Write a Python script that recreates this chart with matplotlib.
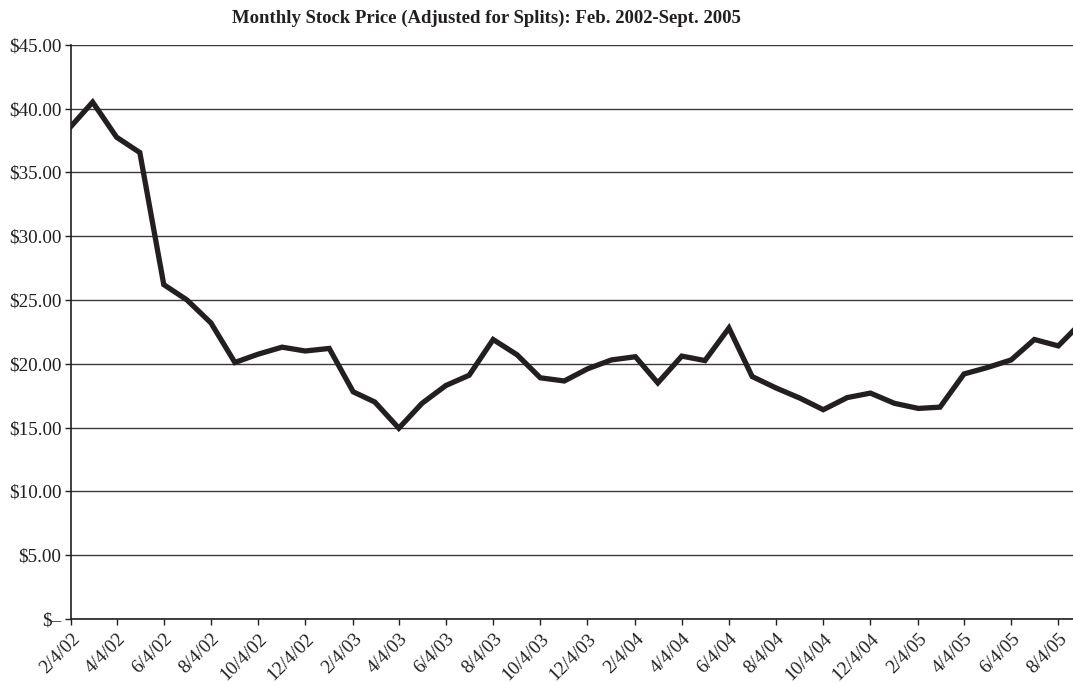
import datetime as dt
import matplotlib
matplotlib.use('Agg')
import matplotlib.pyplot as plt
from matplotlib.ticker import FuncFormatter

# monthly closing prices, 4th of each month, Feb 2002 - Sept 2005
prices_2002 = [38.6, 40.5, 37.75, 36.55, 26.2, 25.0, 23.2, 20.1, 20.75, 21.3, 21.0]
prices_2003 = [21.2, 17.8, 17.0, 14.95, 16.9, 18.3, 19.1, 21.9, 20.7, 18.9, 18.65, 19.6]
prices_2004 = [20.3, 20.55, 18.5, 20.6, 20.25, 22.8, 19.0, 18.1, 17.3, 16.4, 17.35, 17.7]
prices_2005 = [16.9, 16.5, 16.6, 19.2, 19.7, 20.3, 21.9, 21.4, 23.3]

prices = prices_2002 + prices_2003 + prices_2004 + prices_2005

dates = []
y, m = 2002, 2
for p in prices:
    dates.append(dt.date(y, m, 4))
    m += 1
    if m > 12:
        m = 1
        y += 1

tick_dates = dates[::2]
tick_labels = ['%d/%d/%02d' % (d.month, d.day, d.year % 100) for d in tick_dates]

plt.rcParams['font.family'] = ['Liberation Serif', 'DejaVu Serif']

fig = plt.figure(figsize=(10.73, 6.83), dpi=100)
ax = fig.add_axes([71/1073, 1 - 619/683, 1 - 71/1073, (619 - 44.7)/683])

ax.plot(dates, prices, color='#231f20', lw=3.8, solid_joinstyle='miter', zorder=3)

ax.set_ylim(0, 45)
ax.set_yticks(range(0, 46, 5))
ax.yaxis.set_major_formatter(FuncFormatter(lambda v, pos: '$–' if v == 0 else '$%.2f' % v))
ax.yaxis.grid(True, color='#3a3a3a', lw=1.0)
ax.set_axisbelow(True)

ax.set_xlim(dt.date(2002, 2, 4), dt.date(2005, 8, 23))
ax.set_xticks(tick_dates)
ax.set_xticklabels(tick_labels, rotation=45, ha='right', rotation_mode='anchor')

for s in ['top', 'right']:
    ax.spines[s].set_visible(False)
for s in ['left', 'bottom']:
    ax.spines[s].set_color('#231f20')
    ax.spines[s].set_linewidth(1.2)

ax.tick_params(axis='both', labelsize=13.8, colors='#231f20', length=4, width=1.0)
ax.tick_params(axis='x', pad=4)
ax.tick_params(axis='y', pad=3)

fig.text(486/1073, 1 - 18/683, 'Monthly Stock Price (Adjusted for Splits): Feb. 2002-Sept. 2005',
         ha='center', va='center', fontsize=13.5, fontweight='bold', color='#231f20')

fig.savefig('out.png', dpi=100)
